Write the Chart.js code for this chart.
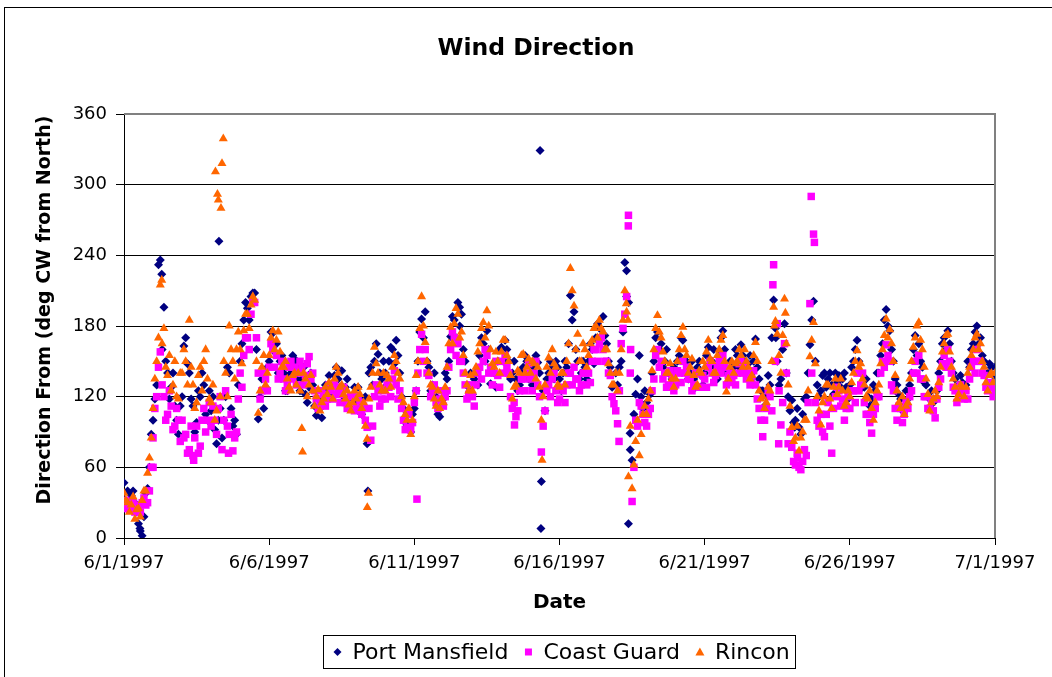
<!DOCTYPE html>
<html>
<head>
<meta charset="utf-8">
<title>Wind Direction</title>
<script src="https://cdn.jsdelivr.net/npm/chart.js@4/dist/chart.umd.min.js"></script>
<style>
  html, body { margin: 0; padding: 0; background: #fff; }
  canvas { display: block; }
</style>
</head>
<body>
<canvas id="windChart" width="1052" height="677"></canvas>
<script>
// Readings every 3 hours starting 6/1/1997 00:00 (8 per day, one row per day)
const stepHours = 3;

const pmDeg = [
  47, 40, 36, 30, 12, 2, 38, 60,
  100, 130, 236, 196, 140, 128, 112, 88,
  120, 170, 140, 112, 98, 120, 130, 100,
  108, 92, 100, 85, 120, 140, 95, 88,
  150, 185, 195, 205, 208, 101, 135, 128,
  150, 174, 165, 150, 140, 125, 140, 152,
  148, 135, 122, 128, 130, 104, 110, 120,
  125, 130, 138, 135, 142, 128, 120, 118,
  115, 120, 110, 80, 145, 150, 156, 135,
  140, 150, 160, 168, 140, 110, 95, 90,
  110, 150, 186, 192, 145, 130, 120, 103,
  118, 135, 171, 185, 200, 190, 150, 128,
  122, 140, 155, 165, 176, 131, 140, 150,
  162, 168, 150, 140, 135, 130, 145, 150,
  140, 145, 149, 48, 108, 140, 145, 150,
  135, 140, 145, 206, 192, 150, 140, 145,
  150, 160, 170, 178, 188, 165, 145, 130,
  130, 150, 234, 12, 66, 122, 155, 110,
  115, 122, 150, 175, 165, 150, 140, 135,
  140, 155, 168, 150, 140, 135, 145, 138,
  140, 162, 150, 145, 155, 176, 140, 150,
  145, 155, 164, 150, 148, 140, 169, 135,
  125, 120, 130, 202, 150, 135, 182, 120,
  117, 100, 94, 105, 120, 164, 201, 130,
  125, 140, 135, 130, 140, 138, 135, 128,
  130, 150, 168, 140, 128, 120, 118, 125,
  140, 165, 194, 176, 150, 130, 118, 112,
  118, 140, 172, 165, 145, 130, 118, 115,
  125, 150, 170, 176, 150, 135, 130, 132,
  130, 145, 165, 180, 170, 150, 140, 145,
  145
];
// same station, readings offset by 1.5 hours
const pmDegB = [
  30, 25, 40, 22, 6, 18, 42, 88,
  118, 232, 160, 150, 118, 140, 100, 112,
  163, 148, 118, 90, 125, 140, 105, 125,
  120, 80, 110, 100, 145, 110, 100, 130,
  165, 200, 185, 208, 160, 120, 110, 145,
  175, 158, 140, 155, 125, 138, 155, 135,
  125, 145, 115, 140, 112, 118, 102, 130,
  138, 122, 145, 128, 120, 135, 110, 128,
  128, 105, 120, 140, 130, 165, 140, 150,
  130, 162, 148, 155, 120, 98, 108, 105,
  125, 175, 170, 150, 125, 140, 105, 118,
  140, 150, 188, 170, 180, 160, 130, 140,
  135, 130, 170, 150, 160, 145, 128, 160,
  150, 160, 135, 150, 125, 142, 155, 135,
  130, 155, 140, 125, 135, 150, 135, 145,
  125, 150, 165, 185, 160, 135, 150, 135,
  165, 148, 182, 170, 172, 150, 128, 140,
  145, 175, 205, 75, 105, 135, 120, 125,
  110, 140, 170, 160, 145, 160, 130, 145,
  150, 170, 150, 135, 150, 128, 150, 130,
  155, 145, 160, 135, 170, 160, 132, 145,
  160, 145, 155, 140, 155, 150, 145, 125,
  112, 138, 170, 178, 130, 160, 140, 108,
  98, 110, 88, 118, 140, 185, 150, 120,
  138, 128, 140, 122, 132, 128, 140, 118,
  145, 160, 150, 128, 135, 112, 130, 140,
  155, 185, 180, 160, 135, 122, 108, 125,
  130, 160, 155, 150, 132, 120, 125, 118,
  140, 165, 160, 165, 140, 128, 138, 125,
  150, 160, 175, 165, 155, 138, 148, 138
];

const cgDeg = [
  25, 30, 28, 22, 25, 30, 28, 40,
  85, 120, 158, 120, 105, 112, 95, 100,
  100, 88, 75, 70, 95, 78, 110, 100,
  95, 100, 110, 75, 125, 88, 74, 90,
  140, 155, 170, 190, 200, 140, 125, 135,
  145, 160, 155, 140, 135, 130, 150, 145,
  140, 145, 138, 154, 140, 118, 112, 122,
  118, 125, 130, 128, 122, 115, 112, 120,
  110, 115, 112, 94, 83, 120, 125, 118,
  118, 128, 135, 130, 125, 100, 94, 92,
  115, 140, 173, 160, 138, 125, 115, 118,
  112, 125, 160, 170, 165, 150, 130, 122,
  120, 130, 145, 150, 155, 145, 140, 138,
  150, 155, 140, 110, 103, 125, 135, 140,
  135, 140, 130, 73, 108, 130, 135, 125,
  118, 125, 130, 140, 145, 135, 130, 140,
  140, 150, 160, 165, 160, 150, 138, 114,
  97, 165, 190, 274, 31, 100, 115, 105,
  95, 110, 135, 160, 150, 140, 130, 138,
  130, 140, 150, 145, 135, 130, 140, 128,
  135, 145, 140, 138, 150, 155, 130, 140,
  138, 140, 150, 145, 140, 135, 130, 110,
  86, 110, 120, 232, 182, 96, 165, 80,
  77, 62, 60, 65, 70, 199, 258, 100,
  105, 86, 115, 72, 120, 125, 118, 110,
  110, 125, 140, 130, 115, 105, 89, 110,
  120, 150, 164, 150, 125, 100, 110, 105,
  110, 125, 150, 155, 135, 120, 110, 108,
  118, 135, 155, 160, 140, 125, 120, 125,
  125, 135, 150, 160, 150, 138, 125, 128,
  125
];
const cgDegB = [
  32, 24, 30, 28, 22, 34, 30, 60,
  110, 145, 130, 100, 125, 92, 110, 82,
  85, 72, 95, 85, 72, 100, 90, 115,
  112, 88, 120, 100, 95, 105, 85, 118,
  128, 170, 160, 200, 170, 118, 140, 125,
  165, 145, 135, 150, 125, 145, 135, 130,
  150, 130, 148, 135, 125, 110, 125, 112,
  130, 118, 122, 115, 128, 110, 120, 108,
  120, 105, 100, 110, 95, 130, 112, 125,
  130, 120, 142, 118, 110, 92, 105, 98,
  125, 160, 150, 140, 120, 130, 110, 125,
  120, 145, 175, 155, 150, 140, 118, 130,
  112, 140, 135, 160, 140, 130, 150, 128,
  140, 145, 120, 115, 108, 135, 125, 148,
  125, 150, 120, 95, 125, 120, 140, 115,
  128, 115, 140, 130, 135, 125, 140, 130,
  132, 160, 150, 170, 150, 140, 120, 108,
  125, 178, 205, 140, 60, 95, 112, 98,
  105, 125, 155, 145, 135, 128, 142, 125,
  142, 132, 140, 135, 125, 140, 128, 138,
  128, 150, 132, 145, 140, 145, 138, 132,
  130, 148, 140, 135, 130, 142, 118, 100,
  100, 125, 108, 150, 125, 115, 140, 90,
  65, 72, 58, 75, 115, 140, 115, 95,
  90, 105, 95, 110, 128, 112, 100, 120,
  125, 115, 125, 140, 105, 98, 105, 120,
  140, 145, 155, 130, 110, 112, 98, 115,
  120, 140, 140, 135, 120, 110, 118, 102,
  128, 148, 145, 150, 128, 115, 130, 118,
  118, 145, 140, 150, 140, 128, 132, 120
];

const rinconDeg = [
  38, 30, 28, 16, 25, 32, 40, 68,
  110, 150, 215, 178, 138, 125, 150, 118,
  140, 150, 185, 130, 115, 145, 150, 135,
  115, 100, 287, 318, 140, 180, 150, 160,
  160, 176, 190, 198, 202, 106, 145, 130,
  155, 176, 168, 158, 145, 135, 125, 140,
  140, 93, 135, 130, 125, 120, 108, 118,
  122, 128, 135, 140, 130, 118, 113, 115,
  118, 122, 115, 84, 128, 162, 140, 125,
  125, 135, 145, 150, 135, 115, 100, 88,
  120, 150, 205, 166, 140, 128, 112, 110,
  115, 145, 179, 182, 190, 175, 140, 125,
  125, 145, 165, 183, 193, 160, 145, 150,
  158, 168, 150, 118, 130, 140, 156, 145,
  140, 148, 145, 100, 130, 153, 160, 145,
  128, 140, 150, 229, 197, 173, 150, 160,
  155, 168, 180, 185, 175, 160, 140, 130,
  125, 160, 210, 52, 42, 82, 70, 105,
  105, 125, 160, 189, 170, 150, 140, 135,
  135, 160, 179, 155, 145, 138, 130, 140,
  145, 168, 150, 140, 160, 172, 124, 145,
  140, 150, 155, 160, 145, 138, 166, 125,
  120, 115, 125, 196, 173, 140, 203, 130,
  94, 85, 74, 90, 100, 154, 183, 120,
  96, 120, 130, 110, 135, 128, 125, 115,
  120, 140, 159, 148, 130, 118, 110, 115,
  130, 160, 186, 177, 150, 125, 110, 105,
  115, 150, 170, 183, 160, 135, 108, 118,
  120, 145, 165, 173, 145, 128, 122, 128,
  128, 145, 160, 173, 165, 145, 125, 140,
  140
];
const rinconDegB = [
  32, 22, 35, 24, 18, 40, 55, 85,
  135, 170, 165, 145, 155, 130, 120, 140,
  160, 130, 145, 110, 138, 125, 160, 118,
  130, 108, 120, 150, 120, 160, 135, 175,
  148, 190, 178, 205, 150, 125, 155, 140,
  170, 160, 175, 145, 150, 128, 138, 130,
  125, 140, 120, 138, 112, 126, 115, 128,
  132, 118, 145, 128, 122, 125, 108, 125,
  128, 110, 95, 118, 140, 148, 130, 140,
  138, 128, 155, 140, 120, 105, 110, 100,
  138, 178, 180, 150, 130, 118, 125, 118,
  128, 165, 165, 195, 170, 155, 130, 138,
  140, 158, 178, 170, 180, 148, 158, 140,
  168, 155, 138, 128, 142, 155, 140, 152,
  150, 135, 128, 120, 145, 140, 148, 130,
  140, 130, 165, 210, 160, 150, 165, 145,
  165, 178, 170, 178, 160, 148, 130, 140,
  140, 185, 192, 95, 62, 100, 88, 112,
  118, 142, 178, 175, 158, 140, 148, 128,
  150, 172, 160, 140, 152, 128, 142, 150,
  158, 152, 140, 155, 168, 150, 135, 150,
  148, 160, 145, 150, 135, 155, 150, 118,
  110, 128, 150, 184, 155, 172, 165, 112,
  82, 95, 85, 100, 125, 168, 148, 108,
  115, 130, 118, 128, 122, 135, 112, 125,
  132, 150, 145, 135, 120, 125, 100, 125,
  148, 172, 170, 165, 138, 115, 120, 112,
  135, 162, 180, 168, 145, 122, 115, 125,
  132, 158, 172, 158, 135, 118, 130, 120,
  140, 155, 170, 160, 150, 132, 138, 132
];

// extra readings between the steps: [day since 6/1, degrees]
const pmExtra = [[0.55, 8], [1.3, 224], [3.27, 252], [4.45, 202], [8.4, 40], [11.56, 196],
  [14.33, 329], [14.36, 8], [17.31, 227], [17.38, 200], [17.43, 89], [22.45, 170], [23.1, 94]];
const cgExtra = [[1.0, 60], [2.4, 66], [3.6, 72], [10.09, 33], [13.45, 96], [17.05, 82],
  [17.37, 265], [17.45, 160], [22.35, 215], [22.55, 80], [23.2, 68], [23.67, 290], [23.78, 251]];
const rinconExtra = [[1.3, 219], [3.15, 311], [3.22, 292], [3.34, 280], [3.42, 339], [6.15, 73],
  [8.38, 26], [8.42, 38], [14.4, 66], [17.3, 199], [17.36, 185], [22.4, 180], [22.78, 191]];

const seriesNames = ['Port Mansfield', 'Coast Guard', 'Rincon'];
const seriesColors = ['#000080', '#FF00FF', '#FF6600'];
const xTickLabels = ['6/1/1997', '6/6/1997', '6/11/1997', '6/16/1997', '6/21/1997', '6/26/1997', '7/1/1997'];
const yMax = 360;
const yStep = 60;

const FONT = 'DejaVu Sans';

function toPoints(values, offsetValues, extra) {
  const pts = values.map((v, i) => ({ x: i * stepHours / 24, y: v }));
  offsetValues.forEach((v, i) => pts.push({ x: (i + 0.5) * stepHours / 24, y: v }));
  extra.forEach(p => pts.push({ x: p[0], y: p[1] }));
  return pts;
}

function drawMarker(ctx, style, x, y, color) {
  ctx.fillStyle = color;
  ctx.beginPath();
  if (style === 'rectRot') {
    ctx.moveTo(x - 4, y); ctx.lineTo(x, y - 4); ctx.lineTo(x + 4, y); ctx.lineTo(x, y + 4);
  } else if (style === 'rect') {
    ctx.rect(x - 3.5, y - 3.5, 7, 7);
  } else {
    ctx.moveTo(x, y - 4.5); ctx.lineTo(x + 4.5, y + 3.5); ctx.lineTo(x - 4.5, y + 3.5);
  }
  ctx.closePath();
  ctx.fill();
}

const pointStyles = ['rectRot', 'rect', 'triangle'];

// frame, titles and legend box are drawn here
const decorations = {
  id: 'decorations',
  beforeDraw(chart) {
    const ctx = chart.ctx;
    ctx.save();
    ctx.fillStyle = '#fff';
    ctx.fillRect(0, 0, chart.width, chart.height);
    ctx.strokeStyle = '#000';
    ctx.lineWidth = 1;
    ctx.strokeRect(4.5, 7.5, chart.width + 20, chart.height + 20);
    ctx.restore();
  },
  beforeDatasetsDraw(chart) {
    const ctx = chart.ctx;
    const a = chart.chartArea;
    ctx.save();
    ctx.strokeStyle = '#808080';
    ctx.lineWidth = 2;
    ctx.beginPath();
    ctx.moveTo(a.left, a.top);
    ctx.lineTo(a.right, a.top);
    ctx.lineTo(a.right, a.bottom);
    ctx.stroke();
    ctx.restore();
  },
  afterDraw(chart) {
    const ctx = chart.ctx;
    const a = chart.chartArea;

    // chart title
    ctx.save();
    ctx.font = 'bold 23.5px "' + FONT + '"';
    ctx.fillStyle = '#000';
    ctx.textAlign = 'center';
    ctx.textBaseline = 'middle';
    ctx.fillText('Wind Direction', 536, 49);
    ctx.restore();

    // y axis title
    ctx.save();
    ctx.translate(45, 310);
    ctx.rotate(-Math.PI / 2);
    ctx.font = 'bold 19px "' + FONT + '"';
    ctx.fillStyle = '#000';
    ctx.textAlign = 'center';
    ctx.textBaseline = 'middle';
    ctx.fillText('Direction From (deg CW from North)', 0, 0);
    ctx.restore();

    // legend
    ctx.save();
    ctx.font = '22px "' + FONT + '"';
    const widths = seriesNames.map(n => ctx.measureText(n).width);
    let total = 14 + 6;
    widths.forEach((w, i) => { total += 15 + w + (i < widths.length - 1 ? 20 : 0); });
    const boxLeft = Math.round((a.left + a.right) / 2 - total / 2) + 0.5;
    const boxTop = 635.5;
    const boxH = 33;
    ctx.strokeStyle = '#000';
    ctx.lineWidth = 1;
    ctx.strokeRect(boxLeft, boxTop, Math.round(total), boxH);
    const cy = boxTop + boxH / 2;
    let x = boxLeft + 14;
    ctx.textBaseline = 'middle';
    ctx.textAlign = 'left';
    seriesNames.forEach((n, i) => {
      drawMarker(ctx, pointStyles[i], x, cy, seriesColors[i]);
      ctx.fillStyle = '#000';
      ctx.fillText(n, x + 15, cy + 1);
      x += 15 + widths[i] + 20;
    });
    ctx.restore();
  }
};

const ctx = document.getElementById('windChart').getContext('2d');
new Chart(ctx, {
  type: 'scatter',
  data: {
    datasets: [{
      label: seriesNames[0],
      data: toPoints(pmDeg, pmDegB, pmExtra),
      pointStyle: 'rectRot',
      radius: 4.5,
      backgroundColor: seriesColors[0],
      borderWidth: 0,
      order: 3
    }, {
      label: seriesNames[1],
      data: toPoints(cgDeg, cgDegB, cgExtra),
      pointStyle: 'rect',
      radius: 5.3,
      backgroundColor: seriesColors[1],
      borderWidth: 0,
      order: 2
    }, {
      label: seriesNames[2],
      data: toPoints(rinconDeg, rinconDegB, rinconExtra),
      pointStyle: 'triangle',
      radius: 5.2,
      backgroundColor: seriesColors[2],
      borderWidth: 0,
      order: 1
    }]
  },
  options: {
    responsive: false,
    animation: false,
    events: [],
    layout: { padding: { left: 0, right: 57, top: 114, bottom: 54 } },
    plugins: {
      legend: { display: false },
      tooltip: { enabled: false },
      title: { display: false }
    },
    scales: {
      x: {
        type: 'linear',
        min: 0,
        max: 30,
        ticks: {
          stepSize: 5,
          autoSkip: false,
          maxRotation: 0,
          padding: 8,
          color: '#000',
          font: { family: FONT, size: 18 },
          callback: v => xTickLabels[Math.round(v / 5)]
        },
        grid: { drawOnChartArea: false, drawTicks: true, tickLength: 7, color: '#000' },
        border: { color: '#000', width: 1 },
        title: {
          display: true,
          text: 'Date',
          color: '#000',
          font: { family: FONT, size: 20, weight: 'bold' },
          padding: { top: 0, bottom: 8 }
        },
        afterFit: scale => { scale.height = 85; }
      },
      y: {
        min: 0,
        max: yMax,
        ticks: {
          stepSize: yStep,
          padding: 9,
          color: '#000',
          font: { family: FONT, size: 18 }
        },
        grid: { color: '#000', tickLength: 8 },
        border: { color: '#000', width: 1 },
        afterFit: scale => { scale.width = 124; }
      }
    }
  },
  plugins: [decorations]
});
</script>
</body>
</html>
